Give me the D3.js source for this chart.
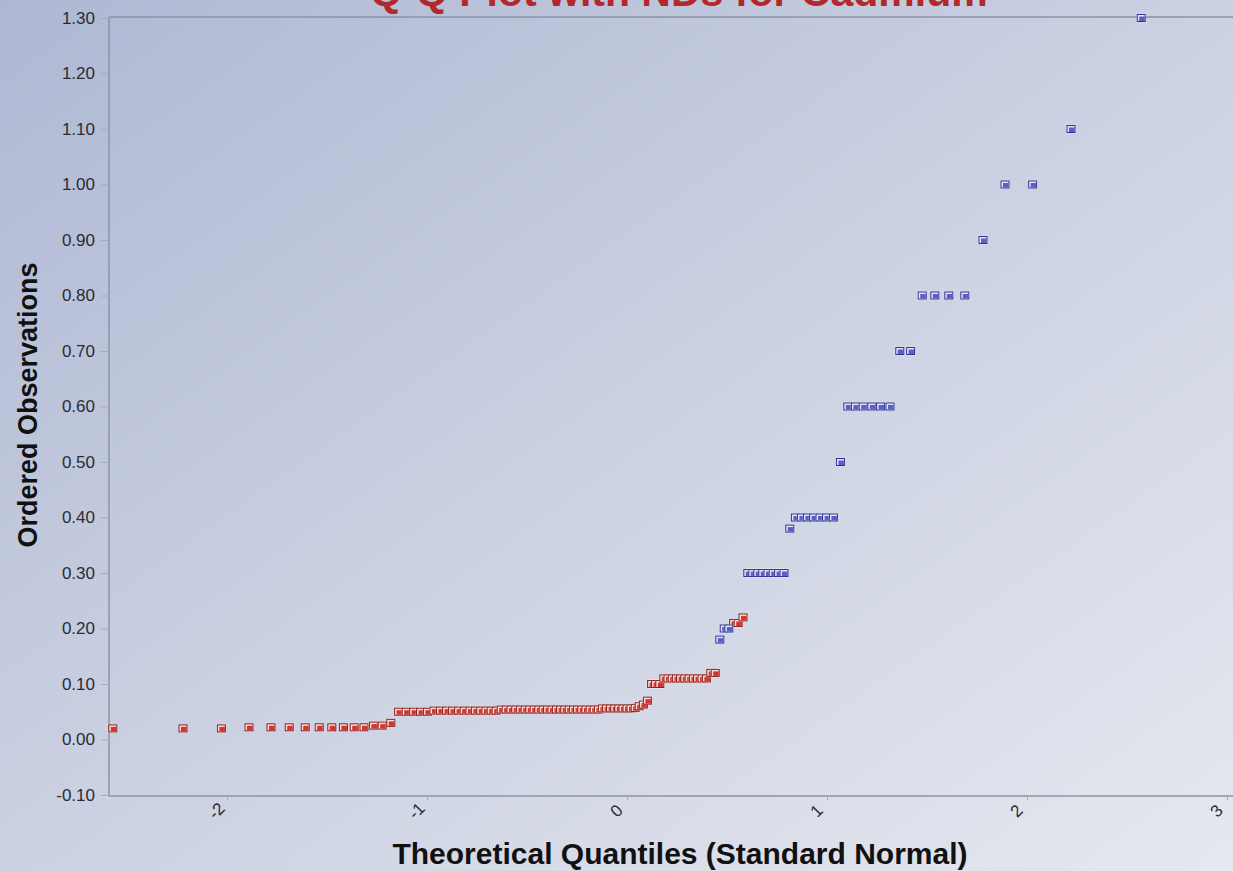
<!DOCTYPE html>
<html>
<head>
<meta charset="utf-8">
<script src="https://cdn.jsdelivr.net/npm/d3@7"></script>
<style>
  body { margin: 0; background: #c8cee0; }
  svg { display: block; font-family: "Liberation Sans", Arial, sans-serif; }
</style>
</head>
<body>
<svg id="chart"></svg>
<script>
//--------------------data---------------
// non-detects (red) : theoretical quantile / ordered observation
var ndQuantiles = [
  -2.571,-2.220,-2.028,-1.890,-1.780,-1.689,-1.609,-1.539,-1.476,-1.418,
  -1.364,-1.315,-1.268,-1.224,-1.181,-1.142,-1.104,-1.067,-1.032,-0.998,
  -0.965,-0.933,-0.902,-0.872,-0.842,-0.814,-0.785,-0.758,-0.731,-0.705,
  -0.679,-0.654,-0.629,-0.604,-0.580,-0.556,-0.533,-0.509,-0.486,-0.464,
  -0.441,-0.419,-0.397,-0.375,-0.353,-0.332,-0.311,-0.289,-0.268,-0.247,
  -0.226,-0.205,-0.184,-0.164,-0.143,-0.123,-0.102,-0.082,-0.061,-0.041,
  -0.020, 0.000, 0.020, 0.041, 0.061, 0.082, 0.102, 0.123, 0.143, 0.164,
   0.184, 0.205, 0.226, 0.247, 0.268, 0.289, 0.311, 0.332, 0.353, 0.375,
   0.397, 0.419, 0.441,
   0.533, 0.556, 0.580
];
var ndValues = [
  0.020,0.020,0.020,0.022,0.022,0.022,0.022,0.022,0.022,0.022,
  0.022,0.022,0.025,0.025,0.030,0.050,0.050,0.050,0.050,0.050,
  0.052,0.052,0.052,0.052,0.052,0.052,0.052,0.052,0.052,0.052,
  0.052,0.052,0.054,0.054,0.054,0.054,0.054,0.054,0.054,0.054,
  0.054,0.054,0.054,0.054,0.054,0.054,0.054,0.054,0.054,0.054,
  0.054,0.054,0.054,0.054,0.054,0.056,0.056,0.056,0.056,0.056,
  0.056,0.056,0.056,0.057,0.060,0.063,0.070,0.100,0.100,0.100,
  0.110,0.110,0.110,0.110,0.110,0.110,0.110,0.110,0.110,0.110,
  0.110,0.120,0.120,
  0.210,0.210,0.220
];
// detects (blue)
var detQuantiles = [
  0.464,0.486,0.509,
  0.604,0.629,0.654,0.679,0.705,0.731,0.758,0.785,
  0.814,
  0.842,0.872,0.902,0.933,0.965,0.998,1.032,
  1.067,
  1.104,1.142,1.181,1.224,1.268,1.315,
  1.364,1.418,
  1.476,1.539,1.609,1.689,
  1.780,
  1.890,2.028,
  2.220,
  2.571
];
var detValues = [
  0.18,0.20,0.20,
  0.30,0.30,0.30,0.30,0.30,0.30,0.30,0.30,
  0.38,
  0.40,0.40,0.40,0.40,0.40,0.40,0.40,
  0.50,
  0.60,0.60,0.60,0.60,0.60,0.60,
  0.70,0.70,
  0.80,0.80,0.80,0.80,
  0.90,
  1.00,1.00,
  1.10,
  1.30
];
var yTicks = [-0.1,0,0.1,0.2,0.3,0.4,0.5,0.6,0.7,0.8,0.9,1.0,1.1,1.2,1.3];
var xTicks = [-2,-1,0,1,2,3];

var width = 1233, height = 871;
var plot = {left: 109, right: 1233, top: 18, bottom: 796};

var svg = d3.select('#chart')
    .attr('width', width)
    .attr('height', height);

//--------------------background---------------
var defs = svg.append('defs');
var grad = defs.append('linearGradient')
    .attr('id', 'bg')
    .attr('x1', '0%').attr('y1', '0%')
    .attr('x2', '100%').attr('y2', '100%');
grad.append('stop').attr('offset', '0%').attr('stop-color', '#aeb8d3');
grad.append('stop').attr('offset', '50%').attr('stop-color', '#cbd1e2');
grad.append('stop').attr('offset', '100%').attr('stop-color', '#e6e8ef');

svg.append('rect')
    .attr('width', width)
    .attr('height', height)
    .attr('fill', 'url(#bg)');

//--------------------scales---------------
var x = d3.scaleLinear()
  .domain([-2.59, 3.03])
  .range([plot.left, plot.right]);

var y = d3.scaleLinear()
  .domain([-0.1, 1.3])
  .range([plot.bottom - 1, plot.top]);

//--------------------title (top is cut off, as in the original)---------------
svg.append('text')
    .attr('x', 679)
    .attr('y', 6)
    .attr('text-anchor', 'middle')
    .style('font-size', '41px')
    .style('font-weight', 'bold')
    .style('fill', '#b3282a')
    .text('Q-Q Plot with NDs for Cadmium');

//--------------------frame lines---------------
svg.append('line')
    .attr('x1', plot.left).attr('x2', width)
    .attr('y1', plot.top - 1).attr('y2', plot.top - 1)
    .style('stroke', '#8c93a4')
    .style('stroke-width', 1.5);

//--------------------y-axis---------------
var yAxis = svg.append('g')
    .attr('transform', 'translate(' + plot.left + ',0)')
    .call(d3.axisLeft(y)
      .tickValues(yTicks)
      .tickFormat(function(d) { return d.toFixed(2); })
      .tickSize(8)
      .tickPadding(6));
yAxis.select('.domain')
    .attr('d', 'M0,' + (plot.top - 1) + 'V' + plot.bottom)
    .style('stroke', '#8c93a4')
    .style('stroke-width', 1.5);
yAxis.selectAll('.tick line').style('stroke', '#a5abb9');
yAxis.selectAll('.tick text')
    .style('font-size', '17px')
    .style('fill', '#2b2b33');

// text label for the y axis
svg.append('text')
    .attr('transform', 'translate(37,' + 405 + ') rotate(-90)')
    .attr('text-anchor', 'middle')
    .style('font-size', '27px')
    .style('font-weight', 'bold')
    .style('fill', '#111')
    .text('Ordered Observations');

//--------------------x-axis---------------
var xAxis = svg.append('g')
    .attr('transform', 'translate(0,' + plot.bottom + ')')
    .call(d3.axisBottom(x)
      .tickValues(xTicks)
      .tickFormat(function(d) { return String(d); })
      .tickSize(4));
xAxis.select('.domain')
    .attr('d', 'M' + plot.left + ',0H' + width)
    .style('stroke', '#8c93a4')
    .style('stroke-width', 1.5);
xAxis.selectAll('.tick line').style('stroke', '#a5abb9');
xAxis.selectAll('.tick text')
    .attr('y', 0)
    .attr('dy', 0)
    .attr('text-anchor', 'middle')
    .attr('transform', 'translate(-7,19) rotate(-45)')
    .style('font-size', '17px')
    .style('fill', '#2b2b33');

// text label for the x axis
svg.append('text')
    .attr('x', 680)
    .attr('y', 864)
    .attr('text-anchor', 'middle')
    .style('font-size', '30px')
    .style('font-weight', 'bold')
    .style('fill', '#111')
    .text('Theoretical Quantiles (Standard Normal)');

//--------------------points---------------
function drawMarkers(qs, vs, main, light, dark) {
  var pts = qs.map(function(q, i) { return {q: q, v: vs[i]}; });
  var g = svg.append('g')
      .selectAll('g')
      .data(pts)
      .enter().append('g')
      .attr('transform', function(d) {
        return 'translate(' + x(d.q) + ',' + y(d.v) + ')';
      });
  g.append('rect')
      .attr('x', -5).attr('y', -4.5).attr('width', 10).attr('height', 9)
      .style('fill', '#ffffff').style('opacity', 0.35);
  g.append('rect')
      .attr('x', -4.5).attr('y', -4).attr('width', 9).attr('height', 8)
      .style('fill', dark);
  g.append('rect')
      .attr('x', -3.5).attr('y', -3).attr('width', 7).attr('height', 6)
      .style('fill', light);
  g.append('rect')
      .attr('x', -2).attr('y', -1.5).attr('width', 5.5).attr('height', 4.5)
      .style('fill', main);
}

drawMarkers(ndQuantiles, ndValues, '#d0352f', '#f7dcd8', '#8f1d1b');
drawMarkers(detQuantiles, detValues, '#5a5ec6', '#e3e5f7', '#2f3391');
</script>
</body>
</html>
